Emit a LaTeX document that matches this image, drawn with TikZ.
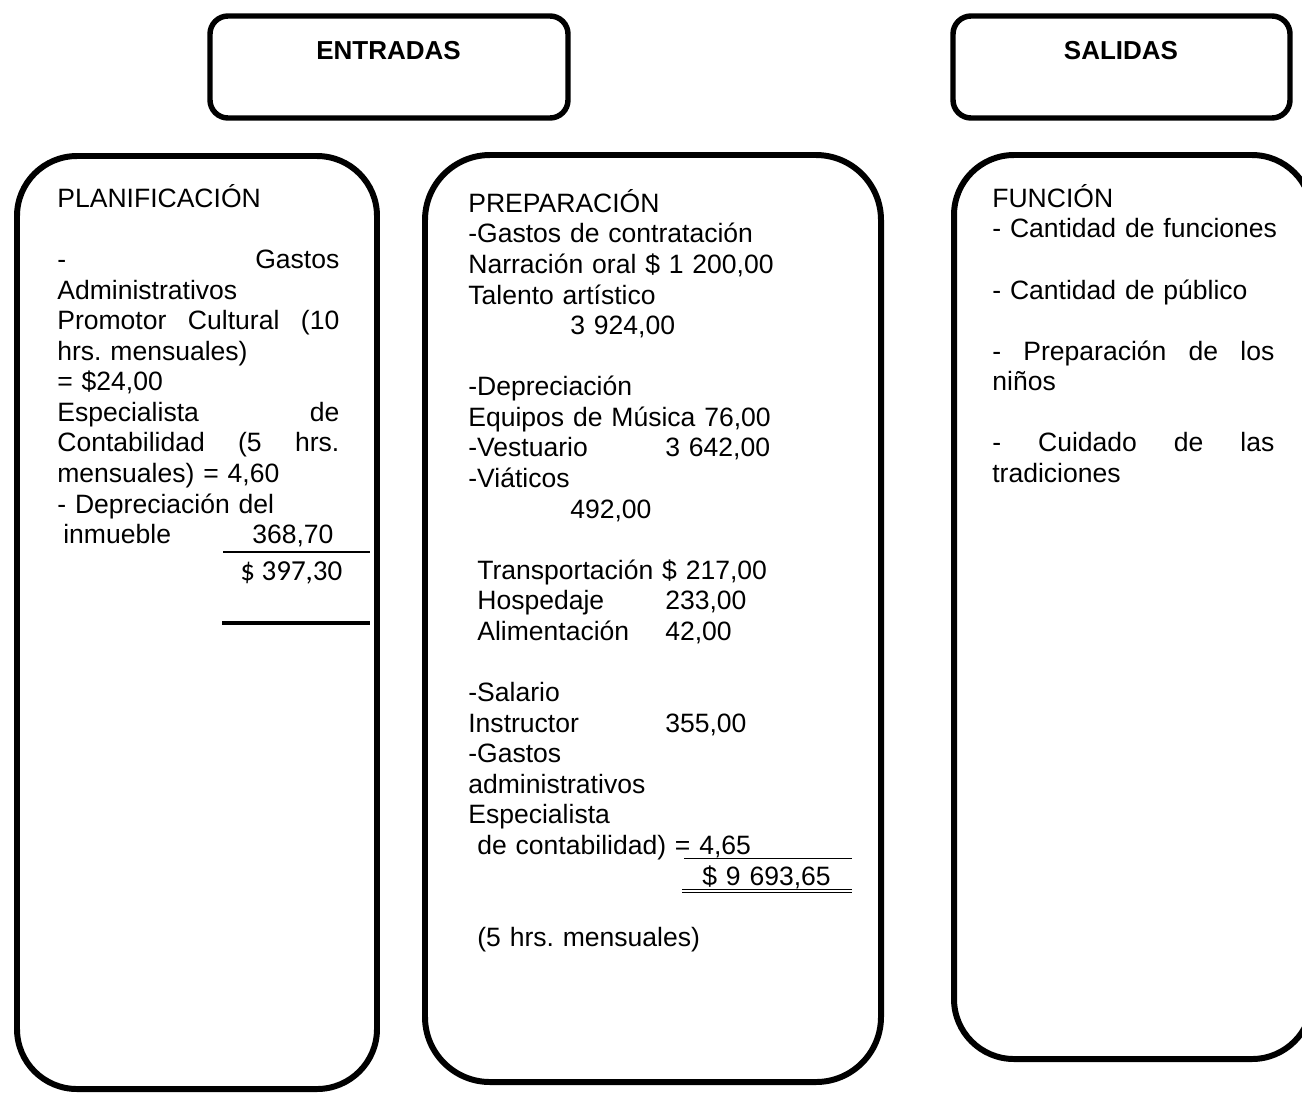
\documentclass[tikz,border=0pt]{standalone}
\usepackage{fontspec}
\setmainfont{Liberation Sans}
\newfontfamily\calibrifont{Carlito}
\usepackage{tikz}
\newcommand\colfont{\fontsize{15.1}{17.4}\selectfont\frenchspacing\hyphenpenalty10000\exhyphenpenalty10000\relax}
\tikzstyle{head} = [
    rectangle,
    minimum height=2.04cm,
    rounded corners=0.36cm,
    draw=black,
    line width=3.1pt,
    inner sep=0pt,
]
\tikzstyle{column} = [
    rectangle,
    rounded corners=1.2cm,
    draw=black,
    line width=3.4pt,
    inner sep=0pt,
]
\tikzstyle{headtxt} = [anchor=base, inner sep=0pt, font=\fontsize{14.8}{17.4}\selectfont\bfseries]
\tikzstyle{txt} = [anchor=base west, inner sep=0pt, align=left, font=\colfont]
\tikzstyle{rule} = [line width=0.85pt]

\begin{document}
\begin{tikzpicture}
    \useasboundingbox (0,0) rectangle (26.04,-21.84);

    % headers
    \node (entradas) [head, minimum width=7.16cm] at (7.78,-1.34) {};
    \node (salidas) [head, minimum width=6.74cm] at (22.43,-1.34) {};
    \node (entxt) [headtxt] at (7.77,-1.186) {ENTRADAS};
    \node (saltxt) [headtxt] at (22.42,-1.186) {SALIDAS};

    % the three columns
    \node (planif) [column, minimum width=7.2cm, minimum height=18.66cm] at (3.94,-12.45) {};
    \node (prepar) [column, rounded corners=1.3cm, minimum width=9.12cm, minimum height=18.54cm] at (13.06,-12.37) {};
    \node (funcion) [column, minimum width=7.16cm, minimum height=18.08cm] at (22.66,-12.14) {};

    \node (planiftxt) [txt, text width=5.64cm] at (1.14,-4.146) {
        PLANIFICACIÓN\\[\baselineskip]
        -\hfill Gastos\\
        Administrativos\\
        Promotor\hfill Cultural\hfill (10\\
        hrs. mensuales)\\
        = \$24,00\\
        Especialista\hfill de\\
        Contabilidad\hfill (5\hfill hrs.\\
        mensuales) = 4,60\\
        - Depreciación del\\
        \makebox[3.9cm][l]{\hspace*{0.12cm}inmueble}368,70
    };
    \node (planiftot) [anchor=base west, inner sep=0pt, font=\fontsize{16.5}{19}\calibrifont] at (4.8,-11.6) {\$ 397,30};
    \draw [rule] (4.46,-11.04) -- (7.40,-11.04);
    \draw [rule, line width=2.2pt] (4.44,-12.46) -- (7.40,-12.46);

    \node (prepartxt) [txt, text width=7.7cm] at (9.36,-4.246) {
        PREPARACIÓN\\
        -Gastos de contratación\\
        Narración oral \$ 1 200,00\\
        Talento artístico\\
        \hspace*{2.04cm}3 924,00\\[\baselineskip]
        -Depreciación\\
        Equipos de Música 76,00\\
        \makebox[3.94cm][l]{-Vestuario}3 642,00\\
        -Viáticos\\
        \hspace*{2.04cm}492,00\\[\baselineskip]
        \hspace*{0.18cm}Transportación \$ 217,00\\
        \makebox[3.94cm][l]{\hspace*{0.18cm}Hospedaje}233,00\\
        \makebox[3.94cm][l]{\hspace*{0.18cm}Alimentación}42,00\\[\baselineskip]
        -Salario\\
        \makebox[3.94cm][l]{Instructor}355,00\\
        -Gastos\\
        administrativos\\
        Especialista\\
        \hspace*{0.18cm}de contabilidad) = 4,65\\
        \hspace*{4.68cm}\$ 9 693,65\\[\baselineskip]
        \hspace*{0.18cm}(5 hrs. mensuales)
    };
    \draw [rule] (13.68,-17.17) -- (17.04,-17.17);
    \draw [rule, line width=0.7pt, double, double distance=0.04cm] (13.64,-17.82) -- (17.04,-17.82);

    \node (funciontxt) [txt, text width=5.64cm] at (19.84,-4.146) {
        FUNCIÓN\\
        \mbox{- Cantidad de funciones}\\[\baselineskip]
        - Cantidad de público\\[\baselineskip]
        -\hfill Preparación\hfill de\hfill los\\
        niños\\[\baselineskip]
        -\hfill Cuidado\hfill de\hfill las\\
        tradiciones
    };
\end{tikzpicture}
\end{document}
